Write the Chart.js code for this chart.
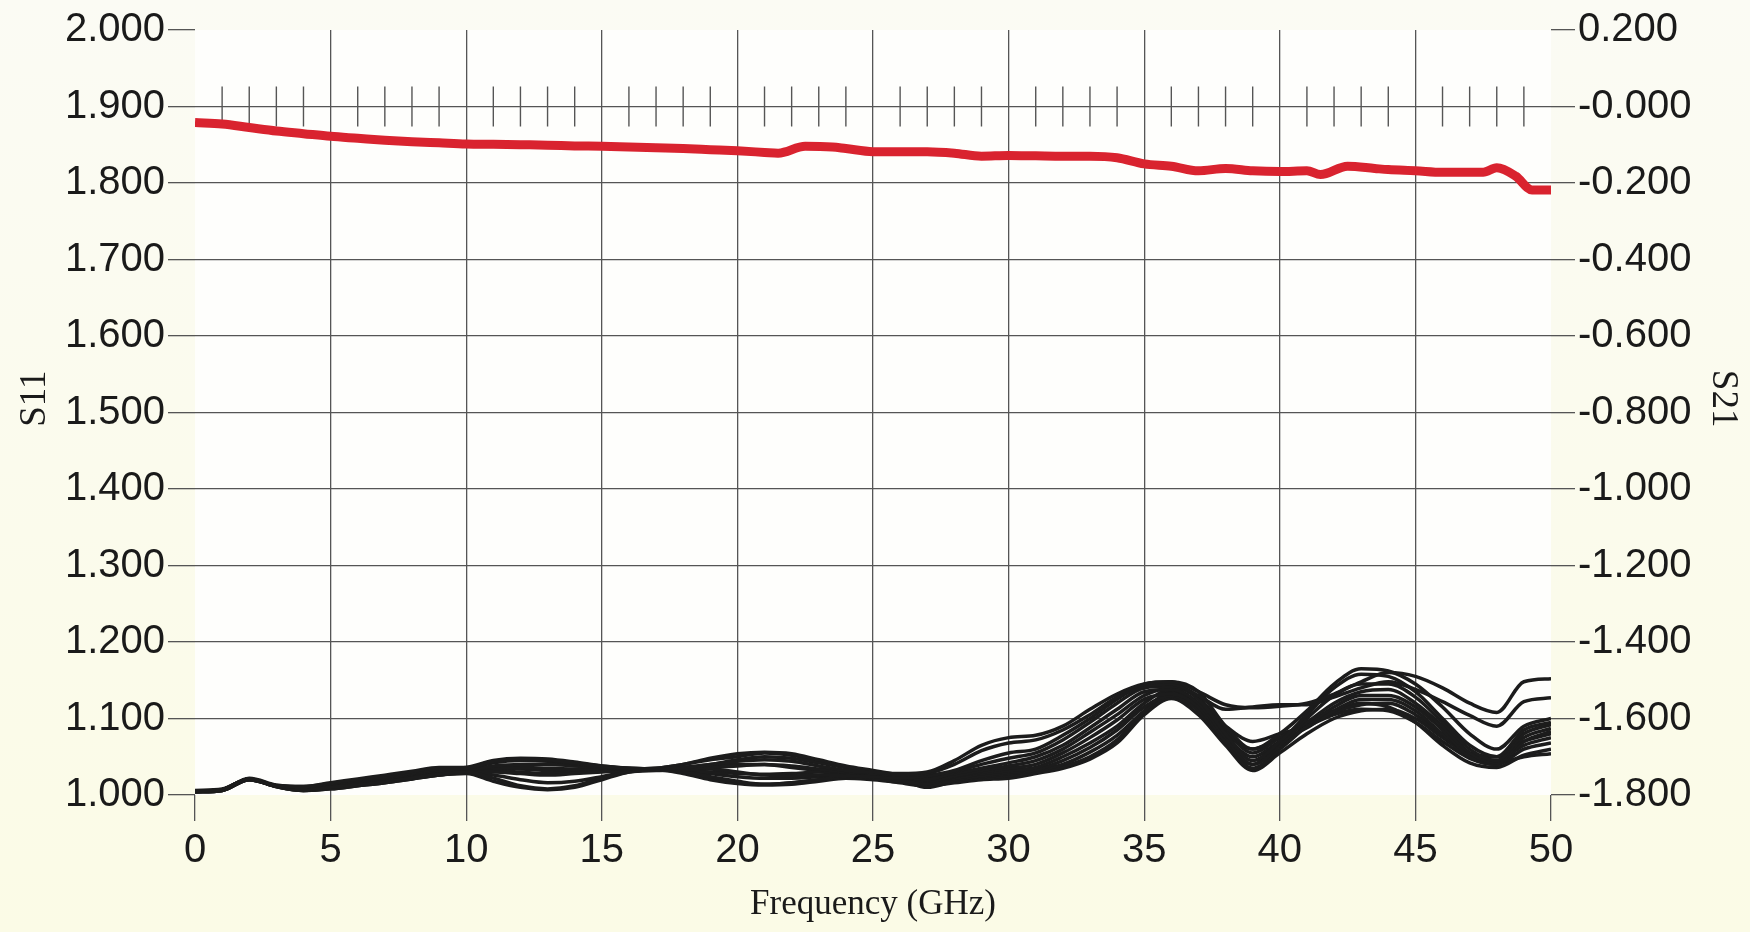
<!DOCTYPE html>
<html lang="en">
<head>
    <meta charset="UTF-8">
    <title>S11 / S21 vs Frequency</title>
    <script src="https://cdn.jsdelivr.net/npm/chart.js"></script>
    <style>
        body {
            margin: 0;
            background-color: #fbfbee;
        }

        .chart-box {
            width: 1750px;
            height: 932px;
        }
    </style>
</head>
<body>
    <div class="chart-box">
        <canvas id="sparamChart"></canvas>
    </div>

    <script>
        // Frequency points (GHz) for the S11 traces
        const freq = [0, 1, 2, 3, 4, 5, 6, 7, 8, 9, 10, 11, 12, 13, 14, 15, 16, 17, 18, 19, 20,
            21, 22, 23, 24, 25, 26, 27, 28, 29, 30, 31, 32, 33, 34, 35, 36, 37, 38, 39, 40,
            41, 42, 43, 44, 45, 46, 47, 48, 49, 50];

        // S11 traces (black, left axis)
        const s11_1 = [1.005, 1.007, 1.021, 1.012, 1.011, 1.016, 1.021, 1.026, 1.031, 1.036,
            1.036, 1.044, 1.047, 1.046, 1.042, 1.038, 1.035, 1.034, 1.036, 1.040, 1.044, 1.046, 1.044, 1.038, 1.032, 1.030, 1.028,
            1.030, 1.045, 1.065, 1.075, 1.078, 1.090, 1.112, 1.132, 1.145,
            1.148, 1.135, 1.118, 1.114, 1.116, 1.120, 1.132, 1.148, 1.160, 1.155, 1.140, 1.120, 1.108, 1.148, 1.152];
        const s11_2 = [1.005, 1.007, 1.020, 1.012, 1.010, 1.015, 1.020, 1.024, 1.029, 1.034,
            1.035, 1.043, 1.046, 1.045, 1.041, 1.037, 1.035, 1.034, 1.035, 1.036, 1.038, 1.040, 1.038, 1.034, 1.030, 1.028, 1.026,
            1.028, 1.040, 1.058, 1.068, 1.072, 1.085, 1.105, 1.128, 1.142,
            1.145, 1.130, 1.112, 1.115, 1.118, 1.118, 1.128, 1.140, 1.148, 1.138, 1.122, 1.104, 1.090, 1.122, 1.127];
        const s11_3 = [1.004, 1.006, 1.021, 1.011, 1.007, 1.010, 1.013, 1.017, 1.022, 1.027,
            1.030, 1.022, 1.012, 1.008, 1.012, 1.022, 1.030, 1.032, 1.033, 1.034, 1.030, 1.026, 1.025, 1.026, 1.025, 1.024, 1.022,
            1.025, 1.032, 1.045, 1.055, 1.060, 1.078, 1.100, 1.125, 1.145,
            1.148, 1.135, 1.090, 1.060, 1.080, 1.110, 1.145, 1.165, 1.162, 1.145, 1.115, 1.080, 1.060, 1.090, 1.100];
        const s11_4 = [1.005, 1.007, 1.022, 1.013, 1.010, 1.014, 1.019, 1.023, 1.028, 1.032,
            1.033, 1.038, 1.040, 1.040, 1.038, 1.036, 1.034, 1.035, 1.040, 1.048, 1.054, 1.056, 1.054, 1.046, 1.038, 1.032, 1.026,
            1.020, 1.030, 1.040, 1.048, 1.055, 1.072, 1.095, 1.120, 1.140,
            1.142, 1.125, 1.080, 1.045, 1.070, 1.105, 1.140, 1.158, 1.155, 1.135, 1.100, 1.065, 1.050, 1.085, 1.095];
        const s11_5 = [1.005, 1.007, 1.021, 1.012, 1.009, 1.012, 1.017, 1.022, 1.027, 1.032,
            1.034, 1.042, 1.045, 1.044, 1.040, 1.036, 1.034, 1.034, 1.036, 1.040, 1.046, 1.050, 1.048, 1.042, 1.036, 1.030, 1.025,
            1.022, 1.028, 1.035, 1.042, 1.050, 1.065, 1.088, 1.112, 1.135,
            1.138, 1.120, 1.075, 1.040, 1.065, 1.100, 1.130, 1.145, 1.145, 1.128, 1.095, 1.060, 1.045, 1.080, 1.092];
        const s11_6 = [1.006, 1.008, 1.021, 1.012, 1.009, 1.012, 1.016, 1.020, 1.025, 1.030,
            1.032, 1.036, 1.036, 1.035, 1.034, 1.034, 1.034, 1.035, 1.040, 1.046, 1.050, 1.055, 1.052, 1.045, 1.036, 1.030, 1.025,
            1.018, 1.025, 1.032, 1.038, 1.045, 1.060, 1.082, 1.105, 1.130,
            1.140, 1.128, 1.085, 1.055, 1.075, 1.095, 1.120, 1.135, 1.138, 1.120, 1.090, 1.055, 1.042, 1.075, 1.087];
        const s11_7 = [1.005, 1.006, 1.020, 1.011, 1.006, 1.008, 1.012, 1.016, 1.021, 1.026,
            1.030, 1.030, 1.028, 1.026, 1.028, 1.030, 1.032, 1.033, 1.030, 1.024, 1.018, 1.014, 1.016, 1.020, 1.024, 1.022, 1.018,
            1.015, 1.024, 1.030, 1.035, 1.040, 1.055, 1.075, 1.098, 1.125,
            1.132, 1.115, 1.070, 1.035, 1.060, 1.090, 1.115, 1.130, 1.130, 1.115, 1.085, 1.050, 1.040, 1.070, 1.083];
        const s11_8 = [1.005, 1.007, 1.021, 1.012, 1.011, 1.015, 1.019, 1.024, 1.029, 1.034,
            1.036, 1.045, 1.048, 1.047, 1.043, 1.038, 1.035, 1.034, 1.032, 1.030, 1.028, 1.027, 1.028, 1.030, 1.028, 1.024, 1.020,
            1.020, 1.022, 1.028, 1.032, 1.036, 1.050, 1.068, 1.090, 1.120,
            1.138, 1.118, 1.078, 1.050, 1.070, 1.088, 1.110, 1.125, 1.125, 1.110, 1.080, 1.055, 1.050, 1.070, 1.080];
        const s11_9 = [1.004, 1.006, 1.020, 1.011, 1.006, 1.009, 1.013, 1.017, 1.022, 1.026,
            1.028, 1.018, 1.010, 1.007, 1.010, 1.020, 1.030, 1.033, 1.032, 1.028, 1.024, 1.022, 1.022, 1.024, 1.026, 1.025, 1.022,
            1.012, 1.020, 1.025, 1.030, 1.033, 1.045, 1.062, 1.085, 1.115,
            1.130, 1.110, 1.070, 1.040, 1.065, 1.090, 1.108, 1.118, 1.120, 1.105, 1.078, 1.050, 1.045, 1.065, 1.075];
        const s11_10 = [1.005, 1.007, 1.021, 1.012, 1.008, 1.011, 1.015, 1.019, 1.024, 1.029,
            1.031, 1.032, 1.030, 1.028, 1.029, 1.031, 1.033, 1.033, 1.028, 1.020, 1.015, 1.013, 1.014, 1.018, 1.022, 1.020, 1.017,
            1.018, 1.022, 1.024, 1.028, 1.032, 1.040, 1.056, 1.078, 1.110,
            1.135, 1.120, 1.090, 1.070, 1.080, 1.090, 1.105, 1.112, 1.110, 1.095, 1.070, 1.048, 1.040, 1.060, 1.068];
        const s11_11 = [1.005, 1.007, 1.021, 1.012, 1.009, 1.012, 1.016, 1.020, 1.025, 1.029,
            1.032, 1.035, 1.034, 1.032, 1.031, 1.032, 1.033, 1.034, 1.036, 1.038, 1.040, 1.040, 1.036, 1.032, 1.028, 1.024, 1.020,
            1.010, 1.018, 1.022, 1.025, 1.030, 1.037, 1.050, 1.072, 1.108,
            1.128, 1.112, 1.080, 1.060, 1.075, 1.095, 1.110, 1.120, 1.115, 1.095, 1.065, 1.042, 1.036, 1.052, 1.060];
        const s11_12 = [1.004, 1.006, 1.020, 1.011, 1.006, 1.008, 1.012, 1.016, 1.021, 1.026,
            1.029, 1.026, 1.020, 1.016, 1.018, 1.024, 1.031, 1.033, 1.030, 1.022, 1.016, 1.014, 1.016, 1.020, 1.024, 1.022, 1.016,
            1.012, 1.016, 1.020, 1.022, 1.028, 1.035, 1.047, 1.068, 1.105,
            1.126, 1.105, 1.065, 1.032, 1.055, 1.080, 1.100, 1.110, 1.112, 1.100, 1.075, 1.052, 1.042, 1.050, 1.054];

        // S21 trace (red, right axis)
        const redFreq = [0, 1, 2, 3, 4, 5, 6, 7, 8, 9, 10, 11, 12, 13, 14, 15, 16, 17, 18, 19, 20,
            21, 21.5, 22.5, 23.5, 24, 25, 26, 27, 28, 29, 30, 31, 32, 33, 34, 35, 36, 37, 38, 39, 40,
            41, 41.5, 42.5, 43.5, 44, 45, 46, 47, 47.5, 48, 48.7, 49.3, 50];
        const s21 = [-0.042, -0.046, -0.055, -0.064, -0.071, -0.078, -0.083, -0.088, -0.092, -0.095, -0.098,
            -0.099, -0.100, -0.101, -0.103, -0.104, -0.106, -0.108, -0.110, -0.113, -0.116,
            -0.120, -0.122, -0.104, -0.106, -0.110, -0.118, -0.118, -0.118, -0.122, -0.130, -0.128,
            -0.129, -0.130, -0.130, -0.134, -0.150, -0.156, -0.168, -0.162, -0.168, -0.170,
            -0.168, -0.178, -0.156, -0.162, -0.165, -0.168, -0.172, -0.172, -0.172, -0.160, -0.182, -0.218, -0.218];

        // small marks along the 1.900 line
        const markFreq = [1, 2, 3, 4, 6, 7, 8, 9, 11, 12, 13, 14, 16, 17, 18, 19, 21, 22, 23, 24,
            26, 27, 28, 29, 31, 32, 33, 34, 36, 37, 38, 39, 41, 42, 43, 44, 46, 47, 48, 49];
        const markLevel = 1.9;

        const s11Traces = [s11_1, s11_2, s11_3, s11_4, s11_5, s11_6, s11_7, s11_8, s11_9, s11_10, s11_11, s11_12];

        const tickFont = { family: "'Liberation Sans', Arial, sans-serif", size: 40 };
        const xTitleFont = { family: "'Liberation Serif', 'Times New Roman', serif", size: 35 };
        const yTitleFont = { family: "'Liberation Serif', 'Times New Roman', serif", size: 37 };
        const gridGrey = '#555';

        const datasets = [];

        datasets.push({
            label: 'marks',
            data: markFreq.map(f => ({ x: f, y: markLevel })),
            yAxisID: 'y',
            showLine: false,
            pointStyle: 'line',
            rotation: 90,
            pointRadius: 20,
            pointHoverRadius: 20,
            borderColor: '#555',
            borderWidth: 1.4,
            order: 3
        });

        s11Traces.forEach((vals, i) => {
            datasets.push({
                label: 'S11 #' + (i + 1),
                data: freq.map((f, k) => ({ x: f, y: vals[k] })),
                yAxisID: 'y',
                borderColor: '#1c1c1c',
                borderWidth: 3.5,
                pointRadius: 0,
                cubicInterpolationMode: 'monotone',
                order: 2
            });
        });

        datasets.push({
            label: 'S21',
            data: redFreq.map((f, k) => ({ x: f, y: s21[k] })),
            yAxisID: 'y2',
            borderColor: '#d9232f',
            borderWidth: 9,
            pointRadius: 0,
            cubicInterpolationMode: 'monotone',
            order: 1
        });

        // paper-like background and a lighter plot area
        const paper = {
            id: 'paper',
            beforeDraw(chart) {
                const { ctx, width, height, chartArea } = chart;
                ctx.save();
                const g = ctx.createLinearGradient(0, 0, 0, height);
                g.addColorStop(0, '#fbfbf4');
                g.addColorStop(1, '#fbfbe6');
                ctx.fillStyle = g;
                ctx.fillRect(0, 0, width, height);
                ctx.fillStyle = '#fefefc';
                ctx.fillRect(chartArea.left, chartArea.top, chartArea.right - chartArea.left, chartArea.bottom - chartArea.top);
                ctx.restore();
            }
        };

        new Chart(document.getElementById('sparamChart'), {
            type: 'line',
            data: { datasets: datasets },
            plugins: [paper],
            options: {
                responsive: true,
                maintainAspectRatio: false,
                devicePixelRatio: 1,
                animation: false,
                layout: { padding: { top: 30, left: 0, right: 0, bottom: 0 } },
                plugins: {
                    legend: { display: false },
                    tooltip: { enabled: false }
                },
                scales: {
                    x: {
                        type: 'linear',
                        min: 0,
                        max: 50,
                        ticks: {
                            stepSize: 5,
                            font: tickFont,
                            color: '#1a1a1a',
                            padding: 6,
                            maxRotation: 0
                        },
                        grid: {
                            color: c => (c.tick && (c.tick.value === 0 || c.tick.value === 50)) ? 'rgba(0,0,0,0)' : gridGrey,
                            tickColor: gridGrey,
                            lineWidth: 1.3,
                            tickLength: 26
                        },
                        border: { display: false },
                        title: {
                            display: true,
                            text: 'Frequency (GHz)',
                            font: xTitleFont,
                            color: '#1a1a1a',
                            padding: { top: 0, bottom: 6 }
                        },
                        afterFit: s => { s.height = 137; }
                    },
                    y: {
                        position: 'left',
                        min: 1,
                        max: 2,
                        ticks: {
                            stepSize: 0.1,
                            font: tickFont,
                            color: '#1a1a1a',
                            padding: 3,
                            callback: v => v.toFixed(3)
                        },
                        grid: {
                            color: c => (c.tick && (Math.abs(c.tick.value - 1) < 1e-6 || Math.abs(c.tick.value - 2) < 1e-6)) ? 'rgba(0,0,0,0)' : gridGrey,
                            tickColor: gridGrey,
                            lineWidth: 1.3,
                            tickLength: 27
                        },
                        border: { display: false },
                        title: {
                            display: true,
                            text: '   S11',
                            font: yTitleFont,
                            color: '#1a1a1a',
                            padding: { top: 13, bottom: 0 }
                        },
                        afterFit: s => { s.width = 195; }
                    },
                    y2: {
                        position: 'right',
                        min: -1.8,
                        max: 0.2,
                        ticks: {
                            stepSize: 0.2,
                            font: tickFont,
                            color: '#1a1a1a',
                            padding: 3,
                            callback: v => Math.abs(v) < 1e-9 ? '-0.000' : v.toFixed(3)
                        },
                        grid: {
                            drawOnChartArea: false,
                            tickColor: gridGrey,
                            lineWidth: 1.3,
                            tickLength: 24
                        },
                        border: { display: false },
                        title: {
                            display: true,
                            text: 'S21   ',
                            font: yTitleFont,
                            color: '#1a1a1a',
                            padding: { top: 5, bottom: 0 }
                        },
                        afterFit: s => { s.width = 199; }
                    }
                }
            }
        });
    </script>
</body>
</html>
